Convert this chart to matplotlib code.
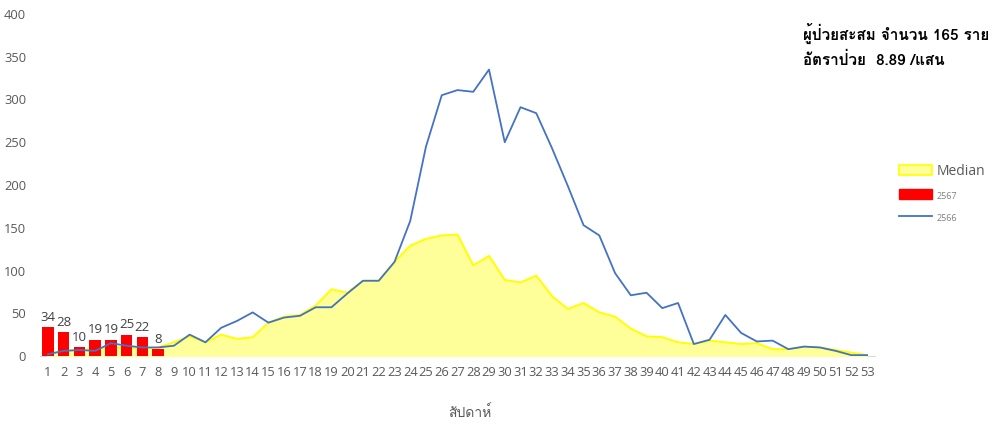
import matplotlib
matplotlib.use("Agg")
import matplotlib.pyplot as plt
import matplotlib.font_manager as fm
from matplotlib.ft2font import FT2Font
from matplotlib.patches import Patch
from matplotlib.lines import Line2D

# ---- data ----
weeks = list(range(1, 54))
median = [3, 6, 7, 8, 10, 10, 9, 10, 16, 23,
          16, 25, 20, 22, 39, 46, 48, 59, 78, 74,
          88, 88, 110, 129, 137, 141, 142, 106, 117, 89,
          86, 94, 70, 55, 62, 51, 46, 32, 23, 22,
          16, 14, 18, 16, 14, 15, 8, 8, 11, 10,
          7, 4, 1]
y2566 = [2, 6, 7, 6, 15, 12, 10, 10, 12, 25,
         16, 33, 41, 51, 39, 45, 47, 57, 57, 73,
         88, 88, 110, 158, 245, 305, 311, 309, 335, 250,
         291, 284, 243, 199, 153, 141, 97, 71, 74, 56,
         62, 14, 19, 48, 27, 17, 18, 8, 11, 10,
         6, 1, 1]
weeks2567 = [1, 2, 3, 4, 5, 6, 7, 8]
y2567 = [34, 28, 10, 19, 19, 25, 22, 8]
yticks = [0, 50, 100, 150, 200, 250, 300, 350, 400]
title_lines = ["ผู้ป่วยสะสม จำนวน 165 ราย", "อัตราป่วย  8.89 /แสน"]
xlabel = "สัปดาห์"
legend_labels = ["Median", "2567", "2566"]

# ---- find a Thai-capable font ----
thai = None
for f in fm.fontManager.ttflist:
    try:
        cm = FT2Font(f.fname).get_charmap()
        if 0x0E1C in cm and 0x0E2A in cm and 0x0E49 in cm:
            thai = f.name
            break
    except Exception:
        pass
fams = ([thai] if thai else []) + ["DejaVu Sans"]
plt.rcParams["font.family"] = ["Open Sans", "DejaVu Sans"]

W, H = 998, 425
fig = plt.figure(figsize=(W / 100, H / 100), dpi=100)
ax = fig.add_axes([40 / W, (H - 356) / H, (875 - 40) / W, (356 - 14) / H])

ax.fill_between(weeks, median, 0, color="#FFFF99", zorder=1)
ax.plot(weeks, median, color="#FFFF00", lw=1.4, zorder=2)
bars = ax.bar(weeks2567, y2567, width=0.74, color="#FF0000", zorder=3)
ax.plot(weeks, y2566, color="#4472C4", lw=1.3, zorder=4)

for x, v in zip(weeks2567, y2567):
    ax.text(x, v + 4, str(v), ha="center", va="bottom", fontsize=9.5, color="#404040")

ax.set_xlim(0.5, 53.5)
ax.set_ylim(0, 400)
ax.set_yticks(yticks)
ax.set_xticks(weeks)
ax.tick_params(axis="both", length=0, labelsize=9.3, colors="#595959")
ax.tick_params(axis="x", pad=7)
ax.tick_params(axis="y", pad=10)
for s in ["top", "right", "left"]:
    ax.spines[s].set_visible(False)
ax.spines["bottom"].set_color("#D9D9D9")
ax.spines["bottom"].set_zorder(0)

fig.text(470 / W, 1 - 413 / H, xlabel, ha="center", va="center",
         fontsize=10, color="#595959", family=fams)

fig.text(803 / W, 1 - 33 / H, title_lines[0], ha="left", va="center",
         fontsize=11, fontweight="bold", color="black", family=fams)
fig.text(803 / W, 1 - 60 / H, title_lines[1], ha="left", va="center",
         fontsize=11, fontweight="bold", color="black", family=fams)

handles = [Patch(facecolor="#FFFF99", edgecolor="#FFFF00", lw=1.2),
           Patch(facecolor="#FF0000", edgecolor="#FF0000"),
           Line2D([0], [0], color="#4472C4", lw=1.3)]
leg = fig.legend(handles, legend_labels, loc="upper left",
                 bbox_to_anchor=(892 / W, 1 - 157 / H), frameon=False,
                 fontsize=10, labelspacing=0.75, handlelength=2.4,
                 handleheight=0.7, handletextpad=0.3, borderpad=0)
for i, t in enumerate(leg.get_texts()):
    t.set_color("#595959")
    if i > 0:
        t.set_fontsize(6.5)
        t.set_color("#808080")

fig.savefig("out.png", dpi=100)
